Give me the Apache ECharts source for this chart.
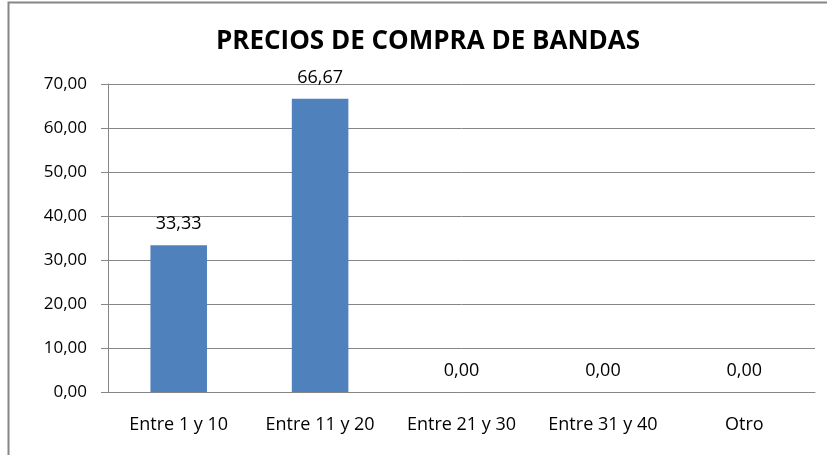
<!DOCTYPE html>
<html>
<head>
<meta charset="utf-8">
<style>
  html, body { margin: 0; padding: 0; background: #fff; }
  #chart { width: 827px; height: 455px; }
</style>
<script src="https://cdn.jsdelivr.net/npm/echarts@6/dist/echarts.min.js"></script>
</head>
<body>
<div id="chart"></div>
<script>
const categories = ['Entre 1 y 10', 'Entre 11 y 20', 'Entre 21 y 30', 'Entre 31 y 40', 'Otro']
const values = [33.33, 66.67, 0, 0, 0]
const yMin = 0
const yMax = 70
const yStep = 10

const fmt = v => Number(v).toFixed(2).replace('.', ',')
const font = '"Open Sans", "DejaVu Sans", sans-serif'

const chart = echarts.init(document.getElementById('chart'))
chart.setOption({
  animation: false,
  textStyle: { fontFamily: font },
  graphic: [{
    type: 'rect',
    shape: { x: 8.5, y: 2.5, width: 840, height: 470 },
    style: { fill: 'none', stroke: '#868686', lineWidth: 2 },
    silent: true
  }],
  title: {
    text: 'PRECIOS DE COMPRA DE BANDAS',
    left: 423,
    textAlign: 'center',
    top: 24,
    textStyle: { fontFamily: font, fontSize: 26, fontWeight: 'bold', color: '#000' }
  },
  grid: { left: 108, right: 12, top: 84, bottom: 63 },
  xAxis: {
    type: 'category',
    data: categories,
    axisLine: { show: true, lineStyle: { color: '#868686', width: 1 } },
    axisTick: { show: false },
    axisLabel: { color: '#000', fontSize: 18, margin: 24, interval: 0, hideOverlap: false }
  },
  yAxis: {
    type: 'value',
    min: yMin,
    max: yMax,
    interval: yStep,
    axisLine: { show: true, lineStyle: { color: '#868686', width: 1 } },
    axisTick: { show: true, length: 7, lineStyle: { color: '#868686' } },
    axisLabel: { color: '#000', fontSize: 17, margin: 21, formatter: fmt },
    splitLine: { lineStyle: { color: '#868686', width: 1 } }
  },
  series: [{
    type: 'bar',
    data: values,
    barWidth: '40%',
    itemStyle: { color: '#4F81BD' },
    label: {
      show: true,
      position: 'top',
      distance: 12,
      color: '#000',
      fontSize: 18,
      formatter: p => fmt(p.value)
    }
  }]
})
</script>
</body>
</html>
